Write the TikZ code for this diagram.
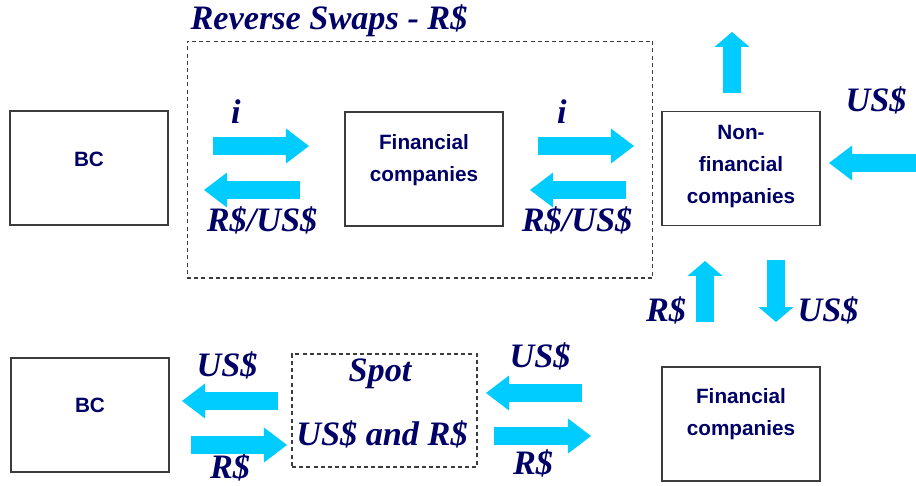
\documentclass[tikz,border=0pt]{standalone}
\usepackage{fontspec}
\setmainfont{Liberation Serif}
\setsansfont{Liberation Sans}
\usetikzlibrary{arrows.meta,positioning}

\definecolor{navy}{RGB}{0,0,102}
\definecolor{flowblue}{RGB}{0,204,255}
\definecolor{edge}{RGB}{60,60,60}

\tikzset{
  box/.style={draw=edge, line width=0.8pt, minimum width=3.16cm, minimum height=2.28cm, inner sep=0pt},
  dashbox/.style={draw=edge, dash pattern=on 2.3pt off 1.8pt, line width=0.6pt, inner sep=0pt},
  boxtext/.style={anchor=north, inner sep=0pt, align=center, text=navy,
    font=\sffamily\bfseries\fontsize{11.8}{18.3}\selectfont},
  money/.style={anchor=base, inner sep=0pt, text=navy,
    font=\bfseries\itshape\fontsize{19.5}{23}\selectfont},
  flowh/.style={draw=flowblue, line width=9.7pt, -{Triangle[length=13.1pt, width=19.9pt, line width=0pt]}},
  flowv/.style={draw=flowblue, line width=9.7pt, -{Triangle[length=8.5pt, width=19.9pt, line width=0pt]}},
}

\begin{document}
\begin{tikzpicture}[x=0.02cm, y=-0.02cm]
    \useasboundingbox (0,0) rectangle (916,485);

    % reverse swaps block
    \node[dashbox, minimum width=9.32cm, minimum height=4.74cm] (swaps) at (420,159.5) {};
    \node[money] (title) at (329,29) {Reverse Swaps - R\$};

    \node[box] (bcA) at (89,168) {};
    \node[boxtext] (bcAtxt) at ([yshift=-23.3pt]bcA.north) {BC};
    \node[box] (fcA) at (424,169) {};
    \node[boxtext] (fcAtxt) at ([yshift=-13.1pt]fcA.north) {Financial\\companies};
    \node[box] (nfc) at (741,168.5) {};
    \node[boxtext] (nfctxt) at ([yshift=-8pt]nfc.north) {Non-\\financial\\companies};

    % spot block
    \node[dashbox, minimum width=3.7cm, minimum height=2.26cm] (spotbox) at (384.5,410.5) {};
    \node[box] (bcB) at (90,415) {};
    \node[boxtext] (bcBtxt) at ([yshift=-22.8pt]bcB.north) {BC};
    \node[box] (fcB) at (741,424) {};
    \node[boxtext] (fcBtxt) at ([yshift=-12.5pt]fcB.north) {Financial\\companies};

    % labels
    \node[money] (iA) at (236,123) {i};
    \node[money] (iB) at (562,123) {i};
    \node[money] (rateA) at (262,231) {R\$/US\$};
    \node[money] (rateB) at (577,231) {R\$/US\$};
    \node[money] (usNE) at (876,111) {US\$};
    \node[money] (rsUp) at (666,321) {R\$};
    \node[money] (usDown) at (828,321) {US\$};
    \node[money] (usBL) at (227,376) {US\$};
    \node[money] (rsBL) at (230,478) {R\$};
    \node[money] (spot) at (380,381) {Spot};
    \node[money] (spotpair) at (382,445) {US\$ and R\$};
    \node[money] (usBR) at (540,367) {US\$};
    \node[money] (rsBR) at (533,474) {R\$};

    % arrow ends
    \foreach \n/\x/\y in {a1/213/146, a2/309/146, b1/300/190, b2/204/190,
        c1/538/146, c2/634/146, d1/626/190, d2/530/190,
        e1/916/163, e2/829/163,
        f1/278/401, f2/182/401, g1/191/445, g2/287/445,
        h1/582/393, h2/486/393, k1/494/436, k2/591/436,
        u1/732/93, u2/732/32, v1/705/322, v2/705/261, w1/776/260, w2/776/322}
        \coordinate (\n) at (\x,\y);

    \foreach \s/\e in {a1/a2, b1/b2, c1/c2, d1/d2, e1/e2, f1/f2, g1/g2, h1/h2, k1/k2}
        \draw[flowh] (\s) -- (\e);
    \foreach \s/\e in {u1/u2, v1/v2, w1/w2}
        \draw[flowv] (\s) -- (\e);

\end{tikzpicture}
\end{document}
